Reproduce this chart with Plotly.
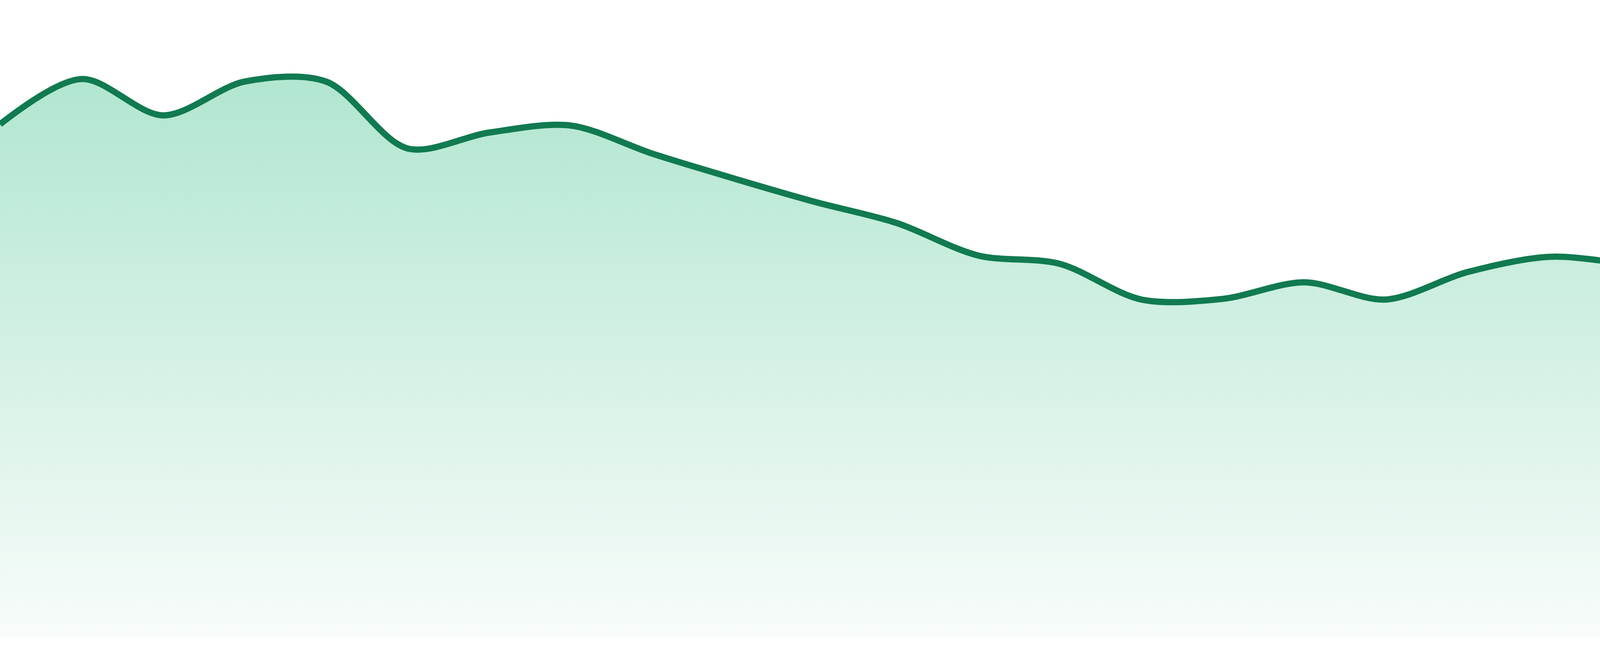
import plotly.graph_objects as go

# sample positions (evenly spaced periods) and values
periods = list(range(24))
values = [80.5, 87.6, 81.9, 87.2, 87.2, 76.7, 79.2, 80.3,
          75.9, 72.0, 68.3, 65.0, 59.9, 58.6, 53.0, 53.1,
          55.7, 53.0, 57.3, 59.7, 58.6, 57.8, 56.3, 50.3]

line_color = '#117a50'

trace = go.Scatter(
    x=periods,
    y=values,
    mode='lines',
    line={'color': line_color, 'width': 16, 'shape': 'spline', 'smoothing': 0.9},
    fill='tozeroy',
    fillgradient={
        'type': 'vertical',
        'start': 0,
        'stop': 87.7,
        'colorscale': [[0, '#f8fcfa'], [1, '#b1e6d0']]
    },
    hoverinfo='skip',
    showlegend=False
)

layout = go.Layout({
    'width': 4800,
    'height': 1680,
    'margin': {'l': 0, 'r': 0, 't': 0, 'b': 48},
    'paper_bgcolor': 'white',
    'plot_bgcolor': 'white',
    'xaxis': {'visible': False, 'range': [0, 23], 'fixedrange': True},
    'yaxis': {'visible': False, 'range': [0, 100], 'fixedrange': True},
})

fig = go.Figure(data=[trace], layout=layout)
# drop the default page margin so the chart sits flush with the window
fig.write_html("out.html", config={'displayModeBar': False},
               post_script="document.body.style.margin='0';document.body.style.overflow='hidden';")
